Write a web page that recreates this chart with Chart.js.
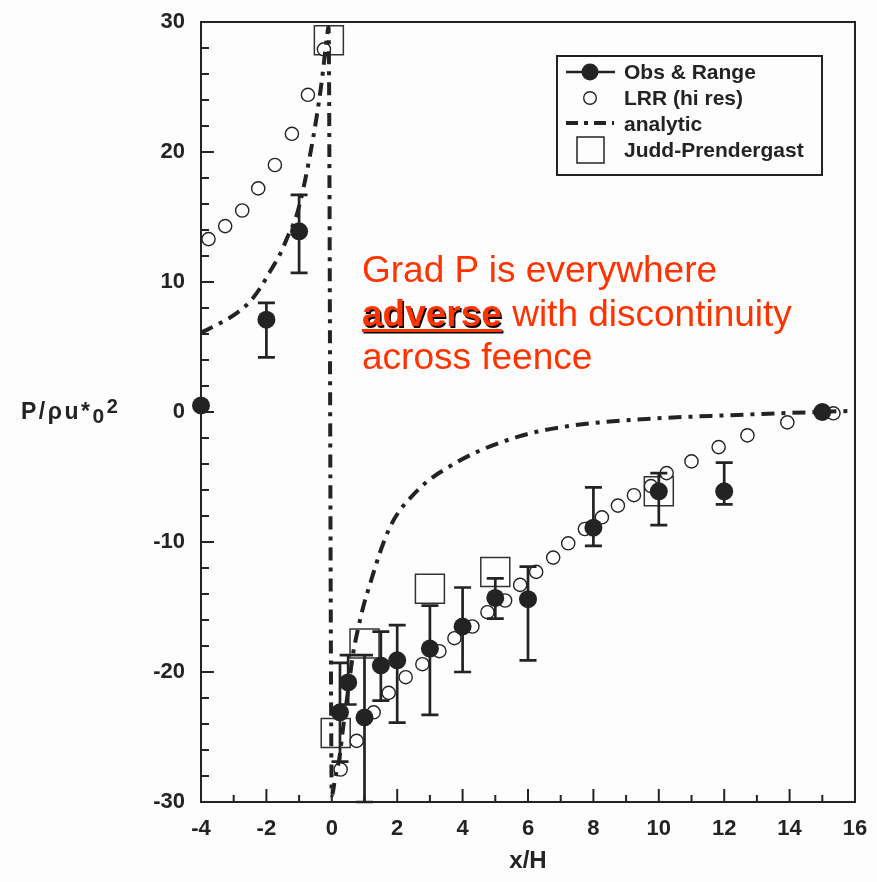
<!DOCTYPE html>
<html>
<head>
<meta charset="utf-8">
<script src="https://cdn.jsdelivr.net/npm/chart.js@4.4.1/dist/chart.umd.min.js"></script>
<style>
html,body{margin:0;padding:0;background:#fdfdfd;}
#wrap{position:relative;width:877px;height:882px;overflow:hidden;font-family:"Liberation Sans",Arial,Helvetica,sans-serif;color:#232323;}
#c{position:absolute;left:0;top:0;}
#ytitle{position:absolute;left:21px;top:400px;font-size:23px;line-height:22px;font-weight:bold;white-space:nowrap;letter-spacing:2.5px;}
#ytitle .sub{position:relative;top:4px;font-size:21px;}
#ytitle .sup{position:relative;top:-6px;font-size:20px;}
#legsvg{position:absolute;left:0;top:0;}
#legtext{position:absolute;left:624px;top:59px;font-size:21px;line-height:26px;font-weight:bold;white-space:nowrap;}
#note{position:absolute;left:362px;top:248px;font-size:37px;line-height:43.5px;color:#ff3300;white-space:nowrap;}
#note b{font-weight:bold;text-decoration:underline;text-decoration-thickness:3px;text-underline-offset:3px;text-shadow:1.5px 1.5px 0 #000;}
</style>
</head>
<body>
<div id="wrap">
<canvas id="c" width="877" height="882"></canvas>
<div id="ytitle">P/ρu*<span class="sub">0</span><span class="sup">2</span></div>
<svg id="legsvg" width="877" height="882">
  <rect x="557" y="56" width="265" height="119" fill="none" stroke="#232323" stroke-width="2"/>
  <line x1="566" y1="72" x2="615" y2="72" stroke="#232323" stroke-width="2.5"/>
  <circle cx="590" cy="72" r="8.5" fill="#232323"/>
  <circle cx="590" cy="98" r="6.3" fill="#ffffff" stroke="#232323" stroke-width="1.4"/>
  <line x1="566" y1="123" x2="614" y2="123" stroke="#232323" stroke-width="4" stroke-dasharray="12 6 4 6"/>
  <rect x="577" y="137" width="27" height="26" fill="none" stroke="#232323" stroke-width="1.5"/>
</svg>
<div id="legtext">Obs &amp; Range<br>LRR (hi res)<br>analytic<br>Judd-Prendergast</div>
<div id="note">Grad P is everywhere<br><b>adverse</b> with discontinuity<br>across feence</div>
</div>
<script>
// ---- data ----
const obsX  = [-4, -2, -1, 0.25, 0.5, 1, 1.5, 2, 3, 4, 5, 6, 8, 10, 12, 15];
const obsY  = [0.5, 7.1, 13.9, -23.1, -20.8, -23.5, -19.5, -19.1, -18.2, -16.5, -14.3, -14.4, -8.9, -6.1, -6.1, 0.0];
const obsLo = [null, 4.2, 10.7, -26.9, -22.5, -30, -22.2, -23.9, -23.3, -20.0, -15.9, -19.1, -10.3, -8.7, -7.1, null];
const obsHi = [null, 8.4, 16.7, -19.3, -18.7, -18.7, -16.9, -16.4, -14.9, -13.5, -12.8, -11.9, -5.8, -4.7, -3.9, null];

const lrrX = [-3.77, -3.26, -2.74, -2.25, -1.74, -1.22, -0.73, -0.24,
              0.27, 0.76, 1.28, 1.74, 2.26, 2.77, 3.29, 3.75, 4.3, 4.76, 5.3, 5.76, 6.25, 6.77,
              7.23, 7.74, 8.26, 8.75, 9.24, 9.76, 10.24, 11.0, 11.83, 12.71, 13.93, 15.34];
const lrrY = [13.3, 14.3, 15.5, 17.2, 19.0, 21.4, 24.4, 27.9,
              -27.5, -25.3, -23.1, -21.6, -20.4, -19.4, -18.4, -17.4, -16.5, -15.4, -14.5, -13.3, -12.3, -11.2,
              -10.1, -9.0, -8.1, -7.2, -6.4, -5.7, -4.7, -3.8, -2.7, -1.8, -0.8, -0.1];

const jpX = [-0.09, 0.12, 1.0, 3.0, 5.0, 10.0];
const jpY = [28.6, -24.7, -17.8, -13.6, -12.3, -6.1];

const anX = [-4, -3.41, -2.91, -2.5, -2.2, -1.89, -1.59, -1.33, -1.08, -0.87, -0.67, -0.47, -0.31, -0.16, -0.1,
             0.0, 0.1, 0.24, 0.34, 0.5, 0.65, 0.8, 0.96, 1.21, 1.46, 1.77, 2.07, 2.48, 2.89, 3.4, 3.9, 4.5,
             5.1, 5.7, 6.3, 7.2, 8.2, 9.2, 10.2, 11.6, 13.7, 15.8];
const anY = [6.1, 6.84, 7.61, 8.5, 9.5, 10.8, 12.1, 13.6, 15.1, 17.2, 19.7, 22.6, 25.4, 28.6, 29.6,
             -29.5, -28.2, -26.5, -24.4, -21.4, -18.6, -16.7, -15.0, -12.9, -10.9, -8.9, -7.6, -6.4, -5.4, -4.5, -3.75, -3.0,
             -2.4, -1.9, -1.5, -1.1, -0.8, -0.6, -0.45, -0.3, -0.1, 0.08];

const xMin = -4, xMax = 16, xStep = 2;
const yMin = -30, yMax = 30, yStep = 10;

// ---- styling ----
const INK = '#232323';
const FONT = '"Liberation Sans", Arial, Helvetica, sans-serif';
const pts = (xs, ys) => xs.map((x, i) => ({x: x, y: ys[i]}));

const framePlugin = {
  id: 'frameTicks',
  beforeDatasetsDraw(chart) {
    const {ctx, chartArea: a, scales: {x, y}} = chart;
    ctx.save();
    ctx.strokeStyle = INK;
    ctx.lineWidth = 2;
    ctx.strokeRect(a.left, a.top, a.right - a.left, a.bottom - a.top);
    ctx.beginPath();
    for (let v = xMin; v <= xMax; v += 1) {
      const px = x.getPixelForValue(v);
      const len = (v % xStep === 0) ? 13 : 7;
      ctx.moveTo(px, a.bottom); ctx.lineTo(px, a.bottom - len);
    }
    for (let v = yMin; v <= yMax; v += 2) {
      const py = y.getPixelForValue(v);
      const len = (v % yStep === 0) ? 13 : 8;
      ctx.moveTo(a.left, py); ctx.lineTo(a.left + len, py);
    }
    ctx.stroke();
    ctx.restore();
  }
};

const errPlugin = {
  id: 'errBars',
  beforeDatasetDraw(chart, args) {
    if (args.index !== 0) return;
    const {ctx, scales: {x, y}} = chart;
    ctx.save();
    ctx.strokeStyle = INK;
    ctx.lineWidth = 2.7;
    ctx.beginPath();
    for (let i = 0; i < obsX.length; i++) {
      if (obsLo[i] == null) continue;
      const px = x.getPixelForValue(obsX[i]);
      const yl = y.getPixelForValue(obsLo[i]);
      const yh = y.getPixelForValue(obsHi[i]);
      ctx.moveTo(px, yl); ctx.lineTo(px, yh);
      ctx.moveTo(px - 8.5, yl); ctx.lineTo(px + 8.5, yl);
      ctx.moveTo(px - 8.5, yh); ctx.lineTo(px + 8.5, yh);
    }
    ctx.stroke();
    ctx.restore();
  }
};

const bgPlugin = {
  id: 'bg',
  beforeDraw(chart) {
    const ctx = chart.ctx;
    ctx.save();
    ctx.fillStyle = '#fdfdfd';
    ctx.fillRect(0, 0, chart.width, chart.height);
    ctx.restore();
  }
};

function noPad(s) { s.paddingTop = 0; s.paddingBottom = 0; s.paddingLeft = 0; s.paddingRight = 0; }

new Chart(document.getElementById('c'), {
  type: 'scatter',
  data: {
    datasets: [
      {
        label: 'Obs & Range',
        data: pts(obsX, obsY),
        pointStyle: 'circle',
        pointRadius: 9,
        pointBackgroundColor: INK,
        pointBorderColor: INK,
        pointBorderWidth: 0,
        clip: false,
        order: 0
      },
      {
        label: 'analytic',
        data: pts(anX, anY),
        showLine: true,
        pointRadius: 0,
        borderColor: INK,
        borderWidth: 4,
        borderDash: [13, 7, 4, 7],
        borderCapStyle: 'butt',
        cubicInterpolationMode: 'monotone',
        fill: false,
        clip: false,
        order: 1
      },
      {
        label: 'LRR (hi res)',
        data: pts(lrrX, lrrY),
        pointStyle: 'circle',
        pointRadius: 6.6,
        pointBackgroundColor: '#ffffff',
        pointBorderColor: INK,
        pointBorderWidth: 1.4,
        clip: false,
        order: 2
      },
      {
        label: 'Judd-Prendergast',
        data: pts(jpX, jpY),
        pointStyle: 'rect',
        pointRadius: 20.5,
        pointBackgroundColor: 'rgba(0,0,0,0)',
        pointBorderColor: '#333333',
        pointBorderWidth: 1.5,
        clip: false,
        order: 3
      }
    ]
  },
  options: {
    responsive: false,
    animation: false,
    devicePixelRatio: 1,
    events: [],
    layout: {padding: {left: 0, right: 20, top: 19, bottom: 0}},
    plugins: {legend: {display: false}, tooltip: {enabled: false}, title: {display: false}},
    scales: {
      x: {
        type: 'linear',
        min: xMin, max: xMax,
        ticks: {stepSize: xStep, color: INK, padding: 14, font: {family: FONT, size: 22, weight: 'bold'}},
        grid: {display: false, drawTicks: false},
        border: {display: false},
        title: {display: true, text: 'x/H', color: INK, font: {family: FONT, size: 24, weight: 'bold'}, padding: {top: 0, bottom: 6}},
        afterFit(s) { s.height = 80; noPad(s); }
      },
      y: {
        type: 'linear',
        min: yMin, max: yMax,
        ticks: {stepSize: yStep, color: INK, padding: 16, font: {family: FONT, size: 22, weight: 'bold'}},
        grid: {display: false, drawTicks: false},
        border: {display: false},
        afterFit(s) { s.width = 201; noPad(s); }
      }
    }
  },
  plugins: [bgPlugin, framePlugin, errPlugin]
});
</script>
</body>
</html>
